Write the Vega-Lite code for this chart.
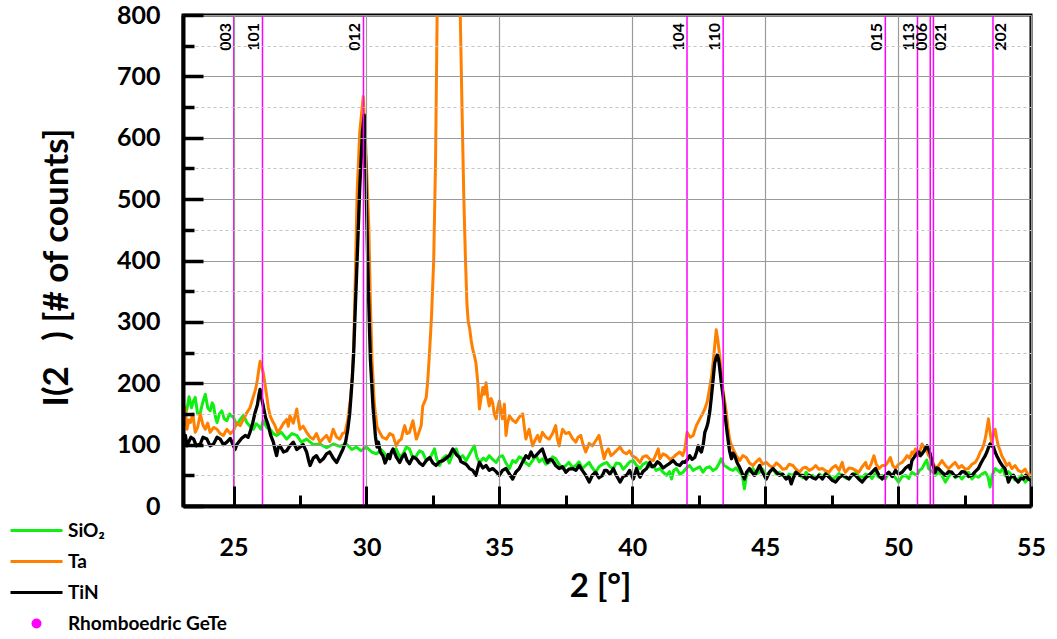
{
"$schema": "https://vega.github.io/schema/vega-lite/v6.json",
"width": 848, "height": 491,
"autosize": {"type": "none"},
"padding": {"left": 183, "top": 15, "right": 26, "bottom": 133},
"background": "white",
"config": {"font": "Lato", "view": {"stroke": "black", "strokeWidth": 3}},
"datasets": {
"xrd": [
{"s":"SiO₂","x":23.1,"y":172},{"s":"SiO₂","x":23.18,"y":150},{"s":"SiO₂","x":23.25,"y":158},{"s":"SiO₂","x":23.33,"y":178},{"s":"SiO₂","x":23.42,"y":160},{"s":"SiO₂","x":23.5,"y":172},{"s":"SiO₂","x":23.56,"y":177},{"s":"SiO₂","x":23.65,"y":150},{"s":"SiO₂","x":23.75,"y":152},{"s":"SiO₂","x":23.85,"y":170},{"s":"SiO₂","x":23.94,"y":182},{"s":"SiO₂","x":24.03,"y":160},{"s":"SiO₂","x":24.12,"y":155},{"s":"SiO₂","x":24.2,"y":168},{"s":"SiO₂","x":24.25,"y":163},{"s":"SiO₂","x":24.32,"y":145},{"s":"SiO₂","x":24.38,"y":136},{"s":"SiO₂","x":24.47,"y":150},{"s":"SiO₂","x":24.56,"y":155},{"s":"SiO₂","x":24.65,"y":142},{"s":"SiO₂","x":24.75,"y":139},{"s":"SiO₂","x":24.85,"y":150},{"s":"SiO₂","x":25.0,"y":144},{"s":"SiO₂","x":25.12,"y":132},{"s":"SiO₂","x":25.25,"y":141},{"s":"SiO₂","x":25.38,"y":148},{"s":"SiO₂","x":25.5,"y":136},{"s":"SiO₂","x":25.62,"y":130},{"s":"SiO₂","x":25.75,"y":125},{"s":"SiO₂","x":25.85,"y":134},{"s":"SiO₂","x":25.94,"y":131},{"s":"SiO₂","x":26.03,"y":125},{"s":"SiO₂","x":26.12,"y":139},{"s":"SiO₂","x":26.25,"y":128},{"s":"SiO₂","x":26.38,"y":125},{"s":"SiO₂","x":26.5,"y":118},{"s":"SiO₂","x":26.62,"y":115},{"s":"SiO₂","x":26.8,"y":120},{"s":"SiO₂","x":27.0,"y":109},{"s":"SiO₂","x":27.2,"y":118},{"s":"SiO₂","x":27.38,"y":115},{"s":"SiO₂","x":27.55,"y":104},{"s":"SiO₂","x":27.75,"y":109},{"s":"SiO₂","x":28.0,"y":100},{"s":"SiO₂","x":28.25,"y":101},{"s":"SiO₂","x":28.5,"y":95},{"s":"SiO₂","x":28.75,"y":101},{"s":"SiO₂","x":29.0,"y":97},{"s":"SiO₂","x":29.25,"y":101},{"s":"SiO₂","x":29.45,"y":92},{"s":"SiO₂","x":29.62,"y":96},{"s":"SiO₂","x":29.8,"y":90},{"s":"SiO₂","x":30.0,"y":96},{"s":"SiO₂","x":30.2,"y":88},{"s":"SiO₂","x":30.38,"y":85},{"s":"SiO₂","x":30.55,"y":92},{"s":"SiO₂","x":30.75,"y":82},{"s":"SiO₂","x":30.88,"y":82},{"s":"SiO₂","x":31.0,"y":90},{"s":"SiO₂","x":31.12,"y":93},{"s":"SiO₂","x":31.25,"y":80},{"s":"SiO₂","x":31.38,"y":85},{"s":"SiO₂","x":31.5,"y":96},{"s":"SiO₂","x":31.62,"y":93},{"s":"SiO₂","x":31.75,"y":78},{"s":"SiO₂","x":31.88,"y":82},{"s":"SiO₂","x":32.0,"y":90},{"s":"SiO₂","x":32.12,"y":87},{"s":"SiO₂","x":32.25,"y":74},{"s":"SiO₂","x":32.38,"y":77},{"s":"SiO₂","x":32.47,"y":85},{"s":"SiO₂","x":32.56,"y":93},{"s":"SiO₂","x":32.65,"y":76},{"s":"SiO₂","x":32.75,"y":66},{"s":"SiO₂","x":32.88,"y":78},{"s":"SiO₂","x":33.0,"y":82},{"s":"SiO₂","x":33.12,"y":70},{"s":"SiO₂","x":33.25,"y":85},{"s":"SiO₂","x":33.38,"y":93},{"s":"SiO₂","x":33.5,"y":78},{"s":"SiO₂","x":33.62,"y":82},{"s":"SiO₂","x":33.75,"y":74},{"s":"SiO₂","x":33.9,"y":86},{"s":"SiO₂","x":34.06,"y":98},{"s":"SiO₂","x":34.15,"y":80},{"s":"SiO₂","x":34.25,"y":71},{"s":"SiO₂","x":34.4,"y":78},{"s":"SiO₂","x":34.5,"y":74},{"s":"SiO₂","x":34.62,"y":82},{"s":"SiO₂","x":34.75,"y":76},{"s":"SiO₂","x":34.88,"y":71},{"s":"SiO₂","x":35.0,"y":80},{"s":"SiO₂","x":35.12,"y":82},{"s":"SiO₂","x":35.25,"y":70},{"s":"SiO₂","x":35.38,"y":61},{"s":"SiO₂","x":35.5,"y":74},{"s":"SiO₂","x":35.62,"y":71},{"s":"SiO₂","x":35.75,"y":80},{"s":"SiO₂","x":35.88,"y":77},{"s":"SiO₂","x":36.0,"y":70},{"s":"SiO₂","x":36.12,"y":66},{"s":"SiO₂","x":36.25,"y":74},{"s":"SiO₂","x":36.38,"y":82},{"s":"SiO₂","x":36.5,"y":72},{"s":"SiO₂","x":36.62,"y":77},{"s":"SiO₂","x":36.75,"y":68},{"s":"SiO₂","x":36.88,"y":71},{"s":"SiO₂","x":37.0,"y":80},{"s":"SiO₂","x":37.12,"y":77},{"s":"SiO₂","x":37.25,"y":68},{"s":"SiO₂","x":37.38,"y":61},{"s":"SiO₂","x":37.5,"y":66},{"s":"SiO₂","x":37.62,"y":71},{"s":"SiO₂","x":37.75,"y":63},{"s":"SiO₂","x":37.88,"y":66},{"s":"SiO₂","x":38.0,"y":72},{"s":"SiO₂","x":38.12,"y":61},{"s":"SiO₂","x":38.25,"y":66},{"s":"SiO₂","x":38.38,"y":71},{"s":"SiO₂","x":38.5,"y":62},{"s":"SiO₂","x":38.62,"y":55},{"s":"SiO₂","x":38.75,"y":64},{"s":"SiO₂","x":38.88,"y":68},{"s":"SiO₂","x":39.04,"y":71},{"s":"SiO₂","x":39.16,"y":64},{"s":"SiO₂","x":39.29,"y":61},{"s":"SiO₂","x":39.4,"y":70},{"s":"SiO₂","x":39.54,"y":69},{"s":"SiO₂","x":39.66,"y":60},{"s":"SiO₂","x":39.79,"y":66},{"s":"SiO₂","x":39.9,"y":72},{"s":"SiO₂","x":40.04,"y":74},{"s":"SiO₂","x":40.16,"y":66},{"s":"SiO₂","x":40.29,"y":61},{"s":"SiO₂","x":40.4,"y":68},{"s":"SiO₂","x":40.54,"y":71},{"s":"SiO₂","x":40.66,"y":64},{"s":"SiO₂","x":40.79,"y":66},{"s":"SiO₂","x":40.9,"y":58},{"s":"SiO₂","x":41.04,"y":61},{"s":"SiO₂","x":41.16,"y":55},{"s":"SiO₂","x":41.29,"y":50},{"s":"SiO₂","x":41.4,"y":56},{"s":"SiO₂","x":41.48,"y":44},{"s":"SiO₂","x":41.56,"y":58},{"s":"SiO₂","x":41.66,"y":61},{"s":"SiO₂","x":41.79,"y":52},{"s":"SiO₂","x":41.91,"y":55},{"s":"SiO₂","x":42.04,"y":62},{"s":"SiO₂","x":42.16,"y":66},{"s":"SiO₂","x":42.29,"y":58},{"s":"SiO₂","x":42.41,"y":61},{"s":"SiO₂","x":42.54,"y":64},{"s":"SiO₂","x":42.66,"y":55},{"s":"SiO₂","x":42.78,"y":62},{"s":"SiO₂","x":42.91,"y":64},{"s":"SiO₂","x":43.04,"y":58},{"s":"SiO₂","x":43.16,"y":61},{"s":"SiO₂","x":43.25,"y":68},{"s":"SiO₂","x":43.35,"y":77},{"s":"SiO₂","x":43.45,"y":66},{"s":"SiO₂","x":43.54,"y":64},{"s":"SiO₂","x":43.66,"y":60},{"s":"SiO₂","x":43.79,"y":58},{"s":"SiO₂","x":43.9,"y":62},{"s":"SiO₂","x":44.04,"y":55},{"s":"SiO₂","x":44.14,"y":50},{"s":"SiO₂","x":44.22,"y":28},{"s":"SiO₂","x":44.28,"y":46},{"s":"SiO₂","x":44.35,"y":55},{"s":"SiO₂","x":44.45,"y":58},{"s":"SiO₂","x":44.54,"y":61},{"s":"SiO₂","x":44.66,"y":52},{"s":"SiO₂","x":44.79,"y":55},{"s":"SiO₂","x":44.9,"y":60},{"s":"SiO₂","x":45.04,"y":50},{"s":"SiO₂","x":45.16,"y":55},{"s":"SiO₂","x":45.29,"y":61},{"s":"SiO₂","x":45.42,"y":52},{"s":"SiO₂","x":45.54,"y":55},{"s":"SiO₂","x":45.66,"y":50},{"s":"SiO₂","x":45.79,"y":44},{"s":"SiO₂","x":45.9,"y":52},{"s":"SiO₂","x":46.04,"y":50},{"s":"SiO₂","x":46.16,"y":56},{"s":"SiO₂","x":46.29,"y":50},{"s":"SiO₂","x":46.42,"y":46},{"s":"SiO₂","x":46.54,"y":55},{"s":"SiO₂","x":46.66,"y":48},{"s":"SiO₂","x":46.79,"y":50},{"s":"SiO₂","x":46.92,"y":45},{"s":"SiO₂","x":47.05,"y":52},{"s":"SiO₂","x":47.15,"y":47},{"s":"SiO₂","x":47.28,"y":54},{"s":"SiO₂","x":47.4,"y":50},{"s":"SiO₂","x":47.52,"y":44},{"s":"SiO₂","x":47.65,"y":47},{"s":"SiO₂","x":47.78,"y":53},{"s":"SiO₂","x":47.9,"y":50},{"s":"SiO₂","x":48.02,"y":46},{"s":"SiO₂","x":48.15,"y":44},{"s":"SiO₂","x":48.28,"y":50},{"s":"SiO₂","x":48.4,"y":55},{"s":"SiO₂","x":48.52,"y":48},{"s":"SiO₂","x":48.65,"y":47},{"s":"SiO₂","x":48.78,"y":52},{"s":"SiO₂","x":48.9,"y":50},{"s":"SiO₂","x":49.02,"y":45},{"s":"SiO₂","x":49.15,"y":53},{"s":"SiO₂","x":49.28,"y":47},{"s":"SiO₂","x":49.4,"y":50},{"s":"SiO₂","x":49.52,"y":44},{"s":"SiO₂","x":49.65,"y":55},{"s":"SiO₂","x":49.78,"y":50},{"s":"SiO₂","x":49.9,"y":46},{"s":"SiO₂","x":50.02,"y":39},{"s":"SiO₂","x":50.15,"y":48},{"s":"SiO₂","x":50.28,"y":50},{"s":"SiO₂","x":50.4,"y":45},{"s":"SiO₂","x":50.52,"y":55},{"s":"SiO₂","x":50.62,"y":52},{"s":"SiO₂","x":50.71,"y":50},{"s":"SiO₂","x":50.8,"y":58},{"s":"SiO₂","x":50.9,"y":61},{"s":"SiO₂","x":50.96,"y":66},{"s":"SiO₂","x":51.02,"y":71},{"s":"SiO₂","x":51.08,"y":75},{"s":"SiO₂","x":51.15,"y":61},{"s":"SiO₂","x":51.28,"y":56},{"s":"SiO₂","x":51.4,"y":50},{"s":"SiO₂","x":51.52,"y":55},{"s":"SiO₂","x":51.65,"y":50},{"s":"SiO₂","x":51.72,"y":44},{"s":"SiO₂","x":51.78,"y":39},{"s":"SiO₂","x":51.9,"y":48},{"s":"SiO₂","x":52.02,"y":55},{"s":"SiO₂","x":52.15,"y":46},{"s":"SiO₂","x":52.28,"y":50},{"s":"SiO₂","x":52.4,"y":44},{"s":"SiO₂","x":52.52,"y":50},{"s":"SiO₂","x":52.65,"y":55},{"s":"SiO₂","x":52.78,"y":44},{"s":"SiO₂","x":52.9,"y":50},{"s":"SiO₂","x":53.02,"y":47},{"s":"SiO₂","x":53.15,"y":52},{"s":"SiO₂","x":53.28,"y":55},{"s":"SiO₂","x":53.38,"y":48},{"s":"SiO₂","x":53.46,"y":31},{"s":"SiO₂","x":53.54,"y":50},{"s":"SiO₂","x":53.65,"y":61},{"s":"SiO₂","x":53.75,"y":58},{"s":"SiO₂","x":53.84,"y":55},{"s":"SiO₂","x":53.95,"y":62},{"s":"SiO₂","x":54.02,"y":50},{"s":"SiO₂","x":54.15,"y":56},{"s":"SiO₂","x":54.28,"y":50},{"s":"SiO₂","x":54.4,"y":42},{"s":"SiO₂","x":54.52,"y":44},{"s":"SiO₂","x":54.65,"y":50},{"s":"SiO₂","x":54.78,"y":39},{"s":"SiO₂","x":54.9,"y":44},{"s":"SiO₂","x":55.0,"y":46},
{"s":"Ta","x":23.1,"y":147},{"s":"Ta","x":23.18,"y":160},{"s":"Ta","x":23.25,"y":125},{"s":"Ta","x":23.32,"y":140},{"s":"Ta","x":23.38,"y":136},{"s":"Ta","x":23.47,"y":150},{"s":"Ta","x":23.56,"y":120},{"s":"Ta","x":23.65,"y":128},{"s":"Ta","x":23.75,"y":150},{"s":"Ta","x":23.85,"y":132},{"s":"Ta","x":23.94,"y":125},{"s":"Ta","x":24.03,"y":135},{"s":"Ta","x":24.12,"y":120},{"s":"Ta","x":24.25,"y":128},{"s":"Ta","x":24.38,"y":125},{"s":"Ta","x":24.5,"y":118},{"s":"Ta","x":24.62,"y":115},{"s":"Ta","x":24.75,"y":125},{"s":"Ta","x":24.88,"y":118},{"s":"Ta","x":25.0,"y":123},{"s":"Ta","x":25.12,"y":135},{"s":"Ta","x":25.25,"y":131},{"s":"Ta","x":25.38,"y":142},{"s":"Ta","x":25.5,"y":152},{"s":"Ta","x":25.62,"y":160},{"s":"Ta","x":25.75,"y":179},{"s":"Ta","x":25.83,"y":190},{"s":"Ta","x":25.9,"y":206},{"s":"Ta","x":25.96,"y":225},{"s":"Ta","x":26.0,"y":236},{"s":"Ta","x":26.06,"y":228},{"s":"Ta","x":26.12,"y":217},{"s":"Ta","x":26.18,"y":200},{"s":"Ta","x":26.25,"y":179},{"s":"Ta","x":26.31,"y":160},{"s":"Ta","x":26.38,"y":147},{"s":"Ta","x":26.47,"y":138},{"s":"Ta","x":26.56,"y":131},{"s":"Ta","x":26.65,"y":120},{"s":"Ta","x":26.75,"y":125},{"s":"Ta","x":26.88,"y":135},{"s":"Ta","x":27.0,"y":141},{"s":"Ta","x":27.06,"y":130},{"s":"Ta","x":27.12,"y":147},{"s":"Ta","x":27.25,"y":135},{"s":"Ta","x":27.38,"y":158},{"s":"Ta","x":27.44,"y":140},{"s":"Ta","x":27.5,"y":125},{"s":"Ta","x":27.62,"y":130},{"s":"Ta","x":27.75,"y":120},{"s":"Ta","x":27.88,"y":112},{"s":"Ta","x":28.0,"y":109},{"s":"Ta","x":28.12,"y":118},{"s":"Ta","x":28.25,"y":104},{"s":"Ta","x":28.38,"y":110},{"s":"Ta","x":28.5,"y":115},{"s":"Ta","x":28.62,"y":105},{"s":"Ta","x":28.75,"y":125},{"s":"Ta","x":28.88,"y":112},{"s":"Ta","x":29.0,"y":109},{"s":"Ta","x":29.1,"y":118},{"s":"Ta","x":29.2,"y":120},{"s":"Ta","x":29.3,"y":141},{"s":"Ta","x":29.4,"y":175},{"s":"Ta","x":29.47,"y":210},{"s":"Ta","x":29.52,"y":259},{"s":"Ta","x":29.58,"y":370},{"s":"Ta","x":29.65,"y":510},{"s":"Ta","x":29.75,"y":610},{"s":"Ta","x":29.88,"y":667},{"s":"Ta","x":29.98,"y":580},{"s":"Ta","x":30.09,"y":455},{"s":"Ta","x":30.15,"y":330},{"s":"Ta","x":30.21,"y":238},{"s":"Ta","x":30.3,"y":165},{"s":"Ta","x":30.4,"y":129},{"s":"Ta","x":30.5,"y":120},{"s":"Ta","x":30.6,"y":112},{"s":"Ta","x":30.75,"y":109},{"s":"Ta","x":30.88,"y":118},{"s":"Ta","x":31.0,"y":115},{"s":"Ta","x":31.12,"y":98},{"s":"Ta","x":31.22,"y":106},{"s":"Ta","x":31.31,"y":109},{"s":"Ta","x":31.38,"y":122},{"s":"Ta","x":31.44,"y":131},{"s":"Ta","x":31.52,"y":118},{"s":"Ta","x":31.62,"y":120},{"s":"Ta","x":31.7,"y":132},{"s":"Ta","x":31.75,"y":139},{"s":"Ta","x":31.82,"y":122},{"s":"Ta","x":31.88,"y":109},{"s":"Ta","x":31.96,"y":118},{"s":"Ta","x":32.06,"y":131},{"s":"Ta","x":32.12,"y":163},{"s":"Ta","x":32.19,"y":170},{"s":"Ta","x":32.25,"y":177},{"s":"Ta","x":32.31,"y":206},{"s":"Ta","x":32.38,"y":255},{"s":"Ta","x":32.45,"y":310},{"s":"Ta","x":32.53,"y":400},{"s":"Ta","x":32.6,"y":560},{"s":"Ta","x":32.66,"y":800},{"s":"Ta","x":32.8,"y":1300},{"s":"Ta","x":33.05,"y":1900},{"s":"Ta","x":33.3,"y":1400},{"s":"Ta","x":33.53,"y":800},{"s":"Ta","x":33.6,"y":640},{"s":"Ta","x":33.66,"y":510},{"s":"Ta","x":33.72,"y":410},{"s":"Ta","x":33.78,"y":330},{"s":"Ta","x":33.83,"y":300},{"s":"Ta","x":33.88,"y":290},{"s":"Ta","x":33.94,"y":270},{"s":"Ta","x":34.0,"y":255},{"s":"Ta","x":34.06,"y":245},{"s":"Ta","x":34.12,"y":233},{"s":"Ta","x":34.19,"y":201},{"s":"Ta","x":34.25,"y":158},{"s":"Ta","x":34.31,"y":175},{"s":"Ta","x":34.38,"y":193},{"s":"Ta","x":34.44,"y":182},{"s":"Ta","x":34.5,"y":201},{"s":"Ta","x":34.56,"y":178},{"s":"Ta","x":34.62,"y":163},{"s":"Ta","x":34.69,"y":175},{"s":"Ta","x":34.75,"y":168},{"s":"Ta","x":34.81,"y":150},{"s":"Ta","x":34.88,"y":142},{"s":"Ta","x":34.94,"y":160},{"s":"Ta","x":35.0,"y":171},{"s":"Ta","x":35.06,"y":155},{"s":"Ta","x":35.12,"y":142},{"s":"Ta","x":35.19,"y":166},{"s":"Ta","x":35.25,"y":115},{"s":"Ta","x":35.31,"y":135},{"s":"Ta","x":35.38,"y":147},{"s":"Ta","x":35.5,"y":140},{"s":"Ta","x":35.62,"y":136},{"s":"Ta","x":35.75,"y":145},{"s":"Ta","x":35.88,"y":150},{"s":"Ta","x":35.94,"y":128},{"s":"Ta","x":36.0,"y":109},{"s":"Ta","x":36.06,"y":118},{"s":"Ta","x":36.12,"y":125},{"s":"Ta","x":36.19,"y":110},{"s":"Ta","x":36.25,"y":98},{"s":"Ta","x":36.35,"y":108},{"s":"Ta","x":36.44,"y":115},{"s":"Ta","x":36.52,"y":105},{"s":"Ta","x":36.62,"y":120},{"s":"Ta","x":36.75,"y":112},{"s":"Ta","x":36.88,"y":109},{"s":"Ta","x":37.0,"y":118},{"s":"Ta","x":37.12,"y":131},{"s":"Ta","x":37.18,"y":110},{"s":"Ta","x":37.25,"y":98},{"s":"Ta","x":37.31,"y":112},{"s":"Ta","x":37.38,"y":125},{"s":"Ta","x":37.5,"y":118},{"s":"Ta","x":37.62,"y":120},{"s":"Ta","x":37.75,"y":110},{"s":"Ta","x":37.88,"y":104},{"s":"Ta","x":37.96,"y":112},{"s":"Ta","x":38.06,"y":115},{"s":"Ta","x":38.15,"y":100},{"s":"Ta","x":38.25,"y":88},{"s":"Ta","x":38.38,"y":102},{"s":"Ta","x":38.5,"y":98},{"s":"Ta","x":38.62,"y":106},{"s":"Ta","x":38.75,"y":115},{"s":"Ta","x":38.85,"y":95},{"s":"Ta","x":38.94,"y":77},{"s":"Ta","x":39.02,"y":88},{"s":"Ta","x":39.1,"y":93},{"s":"Ta","x":39.2,"y":82},{"s":"Ta","x":39.29,"y":85},{"s":"Ta","x":39.4,"y":90},{"s":"Ta","x":39.54,"y":96},{"s":"Ta","x":39.66,"y":88},{"s":"Ta","x":39.79,"y":85},{"s":"Ta","x":39.9,"y":90},{"s":"Ta","x":40.0,"y":82},{"s":"Ta","x":40.15,"y":78},{"s":"Ta","x":40.29,"y":71},{"s":"Ta","x":40.4,"y":80},{"s":"Ta","x":40.54,"y":82},{"s":"Ta","x":40.66,"y":76},{"s":"Ta","x":40.79,"y":74},{"s":"Ta","x":40.9,"y":85},{"s":"Ta","x":40.98,"y":93},{"s":"Ta","x":41.04,"y":77},{"s":"Ta","x":41.16,"y":85},{"s":"Ta","x":41.29,"y":82},{"s":"Ta","x":41.42,"y":76},{"s":"Ta","x":41.54,"y":79},{"s":"Ta","x":41.66,"y":84},{"s":"Ta","x":41.79,"y":88},{"s":"Ta","x":41.9,"y":82},{"s":"Ta","x":41.98,"y":93},{"s":"Ta","x":42.06,"y":120},{"s":"Ta","x":42.18,"y":112},{"s":"Ta","x":42.29,"y":115},{"s":"Ta","x":42.41,"y":131},{"s":"Ta","x":42.54,"y":142},{"s":"Ta","x":42.64,"y":150},{"s":"Ta","x":42.73,"y":158},{"s":"Ta","x":42.82,"y":170},{"s":"Ta","x":42.9,"y":190},{"s":"Ta","x":42.98,"y":210},{"s":"Ta","x":43.04,"y":233},{"s":"Ta","x":43.1,"y":260},{"s":"Ta","x":43.16,"y":287},{"s":"Ta","x":43.22,"y":270},{"s":"Ta","x":43.29,"y":244},{"s":"Ta","x":43.35,"y":215},{"s":"Ta","x":43.41,"y":190},{"s":"Ta","x":43.48,"y":170},{"s":"Ta","x":43.54,"y":152},{"s":"Ta","x":43.6,"y":128},{"s":"Ta","x":43.66,"y":109},{"s":"Ta","x":43.72,"y":100},{"s":"Ta","x":43.79,"y":93},{"s":"Ta","x":43.85,"y":88},{"s":"Ta","x":43.91,"y":82},{"s":"Ta","x":43.98,"y":78},{"s":"Ta","x":44.04,"y":74},{"s":"Ta","x":44.16,"y":82},{"s":"Ta","x":44.29,"y":79},{"s":"Ta","x":44.41,"y":70},{"s":"Ta","x":44.54,"y":66},{"s":"Ta","x":44.66,"y":72},{"s":"Ta","x":44.79,"y":77},{"s":"Ta","x":44.9,"y":68},{"s":"Ta","x":45.04,"y":71},{"s":"Ta","x":45.16,"y":66},{"s":"Ta","x":45.29,"y":63},{"s":"Ta","x":45.42,"y":70},{"s":"Ta","x":45.54,"y":66},{"s":"Ta","x":45.66,"y":60},{"s":"Ta","x":45.79,"y":61},{"s":"Ta","x":45.9,"y":68},{"s":"Ta","x":46.04,"y":66},{"s":"Ta","x":46.16,"y":60},{"s":"Ta","x":46.29,"y":55},{"s":"Ta","x":46.42,"y":62},{"s":"Ta","x":46.54,"y":63},{"s":"Ta","x":46.66,"y":58},{"s":"Ta","x":46.79,"y":61},{"s":"Ta","x":46.9,"y":66},{"s":"Ta","x":47.02,"y":60},{"s":"Ta","x":47.15,"y":61},{"s":"Ta","x":47.28,"y":57},{"s":"Ta","x":47.4,"y":55},{"s":"Ta","x":47.52,"y":62},{"s":"Ta","x":47.65,"y":66},{"s":"Ta","x":47.78,"y":58},{"s":"Ta","x":47.9,"y":71},{"s":"Ta","x":47.96,"y":60},{"s":"Ta","x":48.02,"y":55},{"s":"Ta","x":48.15,"y":62},{"s":"Ta","x":48.28,"y":61},{"s":"Ta","x":48.4,"y":58},{"s":"Ta","x":48.52,"y":55},{"s":"Ta","x":48.65,"y":64},{"s":"Ta","x":48.78,"y":71},{"s":"Ta","x":48.84,"y":62},{"s":"Ta","x":48.9,"y":61},{"s":"Ta","x":49.0,"y":70},{"s":"Ta","x":49.09,"y":82},{"s":"Ta","x":49.18,"y":68},{"s":"Ta","x":49.28,"y":61},{"s":"Ta","x":49.4,"y":66},{"s":"Ta","x":49.52,"y":66},{"s":"Ta","x":49.62,"y":72},{"s":"Ta","x":49.71,"y":79},{"s":"Ta","x":49.8,"y":66},{"s":"Ta","x":49.9,"y":61},{"s":"Ta","x":50.02,"y":68},{"s":"Ta","x":50.15,"y":71},{"s":"Ta","x":50.25,"y":76},{"s":"Ta","x":50.34,"y":82},{"s":"Ta","x":50.44,"y":78},{"s":"Ta","x":50.52,"y":88},{"s":"Ta","x":50.58,"y":84},{"s":"Ta","x":50.65,"y":93},{"s":"Ta","x":50.72,"y":85},{"s":"Ta","x":50.78,"y":82},{"s":"Ta","x":50.84,"y":92},{"s":"Ta","x":50.9,"y":101},{"s":"Ta","x":50.96,"y":96},{"s":"Ta","x":51.02,"y":93},{"s":"Ta","x":51.1,"y":88},{"s":"Ta","x":51.15,"y":82},{"s":"Ta","x":51.22,"y":78},{"s":"Ta","x":51.28,"y":74},{"s":"Ta","x":51.36,"y":66},{"s":"Ta","x":51.46,"y":61},{"s":"Ta","x":51.55,"y":68},{"s":"Ta","x":51.65,"y":74},{"s":"Ta","x":51.78,"y":66},{"s":"Ta","x":51.9,"y":61},{"s":"Ta","x":52.02,"y":66},{"s":"Ta","x":52.15,"y":71},{"s":"Ta","x":52.28,"y":62},{"s":"Ta","x":52.4,"y":66},{"s":"Ta","x":52.52,"y":60},{"s":"Ta","x":52.65,"y":61},{"s":"Ta","x":52.78,"y":68},{"s":"Ta","x":52.9,"y":71},{"s":"Ta","x":53.0,"y":78},{"s":"Ta","x":53.09,"y":88},{"s":"Ta","x":53.15,"y":92},{"s":"Ta","x":53.21,"y":98},{"s":"Ta","x":53.28,"y":110},{"s":"Ta","x":53.34,"y":125},{"s":"Ta","x":53.4,"y":142},{"s":"Ta","x":53.46,"y":120},{"s":"Ta","x":53.52,"y":104},{"s":"Ta","x":53.58,"y":115},{"s":"Ta","x":53.65,"y":125},{"s":"Ta","x":53.71,"y":110},{"s":"Ta","x":53.77,"y":98},{"s":"Ta","x":53.84,"y":90},{"s":"Ta","x":53.9,"y":82},{"s":"Ta","x":54.0,"y":74},{"s":"Ta","x":54.09,"y":66},{"s":"Ta","x":54.18,"y":70},{"s":"Ta","x":54.28,"y":61},{"s":"Ta","x":54.4,"y":66},{"s":"Ta","x":54.52,"y":58},{"s":"Ta","x":54.65,"y":55},{"s":"Ta","x":54.78,"y":60},{"s":"Ta","x":54.9,"y":50},{"s":"Ta","x":55.0,"y":52},
{"s":"TiN","x":23.1,"y":125},{"s":"TiN","x":23.15,"y":110},{"s":"TiN","x":23.19,"y":115},{"s":"TiN","x":23.25,"y":98},{"s":"TiN","x":23.31,"y":104},{"s":"TiN","x":23.4,"y":112},{"s":"TiN","x":23.5,"y":109},{"s":"TiN","x":23.6,"y":98},{"s":"TiN","x":23.75,"y":101},{"s":"TiN","x":23.85,"y":112},{"s":"TiN","x":24.0,"y":109},{"s":"TiN","x":24.12,"y":98},{"s":"TiN","x":24.25,"y":101},{"s":"TiN","x":24.38,"y":112},{"s":"TiN","x":24.5,"y":109},{"s":"TiN","x":24.62,"y":100},{"s":"TiN","x":24.75,"y":104},{"s":"TiN","x":24.88,"y":110},{"s":"TiN","x":25.0,"y":98},{"s":"TiN","x":25.06,"y":92},{"s":"TiN","x":25.12,"y":100},{"s":"TiN","x":25.19,"y":104},{"s":"TiN","x":25.3,"y":110},{"s":"TiN","x":25.44,"y":115},{"s":"TiN","x":25.55,"y":112},{"s":"TiN","x":25.62,"y":120},{"s":"TiN","x":25.72,"y":135},{"s":"TiN","x":25.81,"y":152},{"s":"TiN","x":25.9,"y":165},{"s":"TiN","x":25.96,"y":182},{"s":"TiN","x":26.0,"y":190},{"s":"TiN","x":26.06,"y":175},{"s":"TiN","x":26.12,"y":163},{"s":"TiN","x":26.2,"y":145},{"s":"TiN","x":26.31,"y":131},{"s":"TiN","x":26.4,"y":115},{"s":"TiN","x":26.5,"y":104},{"s":"TiN","x":26.56,"y":92},{"s":"TiN","x":26.62,"y":82},{"s":"TiN","x":26.68,"y":95},{"s":"TiN","x":26.75,"y":98},{"s":"TiN","x":26.88,"y":88},{"s":"TiN","x":27.0,"y":90},{"s":"TiN","x":27.12,"y":98},{"s":"TiN","x":27.25,"y":104},{"s":"TiN","x":27.38,"y":92},{"s":"TiN","x":27.5,"y":96},{"s":"TiN","x":27.62,"y":100},{"s":"TiN","x":27.75,"y":88},{"s":"TiN","x":27.82,"y":75},{"s":"TiN","x":27.88,"y":66},{"s":"TiN","x":28.0,"y":78},{"s":"TiN","x":28.12,"y":82},{"s":"TiN","x":28.25,"y":72},{"s":"TiN","x":28.38,"y":77},{"s":"TiN","x":28.5,"y":85},{"s":"TiN","x":28.62,"y":88},{"s":"TiN","x":28.75,"y":78},{"s":"TiN","x":28.88,"y":71},{"s":"TiN","x":29.0,"y":82},{"s":"TiN","x":29.12,"y":93},{"s":"TiN","x":29.22,"y":105},{"s":"TiN","x":29.3,"y":125},{"s":"TiN","x":29.37,"y":150},{"s":"TiN","x":29.42,"y":179},{"s":"TiN","x":29.47,"y":210},{"s":"TiN","x":29.52,"y":249},{"s":"TiN","x":29.58,"y":320},{"s":"TiN","x":29.65,"y":400},{"s":"TiN","x":29.75,"y":520},{"s":"TiN","x":29.85,"y":610},{"s":"TiN","x":29.92,"y":637},{"s":"TiN","x":29.97,"y":560},{"s":"TiN","x":30.02,"y":455},{"s":"TiN","x":30.08,"y":340},{"s":"TiN","x":30.15,"y":238},{"s":"TiN","x":30.25,"y":160},{"s":"TiN","x":30.34,"y":113},{"s":"TiN","x":30.4,"y":96},{"s":"TiN","x":30.45,"y":104},{"s":"TiN","x":30.52,"y":88},{"s":"TiN","x":30.62,"y":82},{"s":"TiN","x":30.7,"y":70},{"s":"TiN","x":30.75,"y":75},{"s":"TiN","x":30.82,"y":84},{"s":"TiN","x":30.88,"y":77},{"s":"TiN","x":30.94,"y":88},{"s":"TiN","x":31.0,"y":93},{"s":"TiN","x":31.12,"y":80},{"s":"TiN","x":31.25,"y":71},{"s":"TiN","x":31.35,"y":80},{"s":"TiN","x":31.44,"y":85},{"s":"TiN","x":31.53,"y":74},{"s":"TiN","x":31.62,"y":69},{"s":"TiN","x":31.75,"y":80},{"s":"TiN","x":31.88,"y":77},{"s":"TiN","x":32.0,"y":70},{"s":"TiN","x":32.12,"y":66},{"s":"TiN","x":32.25,"y":74},{"s":"TiN","x":32.38,"y":79},{"s":"TiN","x":32.5,"y":70},{"s":"TiN","x":32.62,"y":66},{"s":"TiN","x":32.75,"y":72},{"s":"TiN","x":32.88,"y":74},{"s":"TiN","x":33.0,"y":78},{"s":"TiN","x":33.12,"y":82},{"s":"TiN","x":33.19,"y":88},{"s":"TiN","x":33.25,"y":93},{"s":"TiN","x":33.38,"y":84},{"s":"TiN","x":33.5,"y":79},{"s":"TiN","x":33.56,"y":72},{"s":"TiN","x":33.62,"y":71},{"s":"TiN","x":33.75,"y":68},{"s":"TiN","x":33.88,"y":61},{"s":"TiN","x":34.0,"y":58},{"s":"TiN","x":34.12,"y":50},{"s":"TiN","x":34.19,"y":62},{"s":"TiN","x":34.25,"y":71},{"s":"TiN","x":34.38,"y":62},{"s":"TiN","x":34.5,"y":66},{"s":"TiN","x":34.62,"y":58},{"s":"TiN","x":34.75,"y":61},{"s":"TiN","x":34.88,"y":56},{"s":"TiN","x":35.0,"y":50},{"s":"TiN","x":35.12,"y":58},{"s":"TiN","x":35.25,"y":61},{"s":"TiN","x":35.38,"y":52},{"s":"TiN","x":35.5,"y":44},{"s":"TiN","x":35.62,"y":55},{"s":"TiN","x":35.75,"y":61},{"s":"TiN","x":35.88,"y":72},{"s":"TiN","x":36.0,"y":82},{"s":"TiN","x":36.1,"y":78},{"s":"TiN","x":36.19,"y":88},{"s":"TiN","x":36.28,"y":80},{"s":"TiN","x":36.38,"y":82},{"s":"TiN","x":36.5,"y":88},{"s":"TiN","x":36.62,"y":93},{"s":"TiN","x":36.72,"y":80},{"s":"TiN","x":36.81,"y":71},{"s":"TiN","x":36.9,"y":76},{"s":"TiN","x":37.0,"y":74},{"s":"TiN","x":37.12,"y":66},{"s":"TiN","x":37.25,"y":61},{"s":"TiN","x":37.38,"y":64},{"s":"TiN","x":37.5,"y":55},{"s":"TiN","x":37.62,"y":60},{"s":"TiN","x":37.75,"y":61},{"s":"TiN","x":37.88,"y":58},{"s":"TiN","x":38.0,"y":66},{"s":"TiN","x":38.12,"y":58},{"s":"TiN","x":38.25,"y":50},{"s":"TiN","x":38.38,"y":39},{"s":"TiN","x":38.5,"y":50},{"s":"TiN","x":38.62,"y":55},{"s":"TiN","x":38.75,"y":46},{"s":"TiN","x":38.88,"y":50},{"s":"TiN","x":38.96,"y":58},{"s":"TiN","x":39.04,"y":58},{"s":"TiN","x":39.16,"y":52},{"s":"TiN","x":39.29,"y":61},{"s":"TiN","x":39.4,"y":50},{"s":"TiN","x":39.54,"y":39},{"s":"TiN","x":39.66,"y":48},{"s":"TiN","x":39.79,"y":50},{"s":"TiN","x":39.9,"y":58},{"s":"TiN","x":40.04,"y":44},{"s":"TiN","x":40.1,"y":52},{"s":"TiN","x":40.16,"y":61},{"s":"TiN","x":40.22,"y":54},{"s":"TiN","x":40.29,"y":47},{"s":"TiN","x":40.4,"y":56},{"s":"TiN","x":40.54,"y":61},{"s":"TiN","x":40.66,"y":71},{"s":"TiN","x":40.75,"y":64},{"s":"TiN","x":40.85,"y":66},{"s":"TiN","x":40.95,"y":72},{"s":"TiN","x":41.04,"y":69},{"s":"TiN","x":41.16,"y":62},{"s":"TiN","x":41.29,"y":66},{"s":"TiN","x":41.42,"y":70},{"s":"TiN","x":41.54,"y":74},{"s":"TiN","x":41.66,"y":68},{"s":"TiN","x":41.79,"y":66},{"s":"TiN","x":41.9,"y":72},{"s":"TiN","x":41.98,"y":71},{"s":"TiN","x":42.08,"y":76},{"s":"TiN","x":42.16,"y":82},{"s":"TiN","x":42.25,"y":76},{"s":"TiN","x":42.35,"y":79},{"s":"TiN","x":42.42,"y":88},{"s":"TiN","x":42.48,"y":98},{"s":"TiN","x":42.54,"y":92},{"s":"TiN","x":42.6,"y":88},{"s":"TiN","x":42.67,"y":100},{"s":"TiN","x":42.73,"y":120},{"s":"TiN","x":42.8,"y":128},{"s":"TiN","x":42.85,"y":136},{"s":"TiN","x":42.92,"y":155},{"s":"TiN","x":42.98,"y":179},{"s":"TiN","x":43.04,"y":205},{"s":"TiN","x":43.1,"y":233},{"s":"TiN","x":43.16,"y":242},{"s":"TiN","x":43.2,"y":246},{"s":"TiN","x":43.25,"y":238},{"s":"TiN","x":43.28,"y":228},{"s":"TiN","x":43.35,"y":201},{"s":"TiN","x":43.42,"y":178},{"s":"TiN","x":43.48,"y":152},{"s":"TiN","x":43.54,"y":130},{"s":"TiN","x":43.6,"y":109},{"s":"TiN","x":43.66,"y":90},{"s":"TiN","x":43.73,"y":77},{"s":"TiN","x":43.79,"y":86},{"s":"TiN","x":43.85,"y":82},{"s":"TiN","x":43.95,"y":70},{"s":"TiN","x":44.04,"y":63},{"s":"TiN","x":44.12,"y":55},{"s":"TiN","x":44.22,"y":44},{"s":"TiN","x":44.3,"y":55},{"s":"TiN","x":44.41,"y":61},{"s":"TiN","x":44.5,"y":55},{"s":"TiN","x":44.6,"y":50},{"s":"TiN","x":44.7,"y":58},{"s":"TiN","x":44.79,"y":66},{"s":"TiN","x":44.9,"y":55},{"s":"TiN","x":45.04,"y":44},{"s":"TiN","x":45.16,"y":55},{"s":"TiN","x":45.29,"y":61},{"s":"TiN","x":45.42,"y":55},{"s":"TiN","x":45.54,"y":50},{"s":"TiN","x":45.66,"y":52},{"s":"TiN","x":45.79,"y":44},{"s":"TiN","x":45.9,"y":48},{"s":"TiN","x":45.98,"y":36},{"s":"TiN","x":46.06,"y":46},{"s":"TiN","x":46.16,"y":55},{"s":"TiN","x":46.29,"y":50},{"s":"TiN","x":46.41,"y":50},{"s":"TiN","x":46.54,"y":44},{"s":"TiN","x":46.66,"y":50},{"s":"TiN","x":46.78,"y":46},{"s":"TiN","x":46.9,"y":44},{"s":"TiN","x":47.02,"y":50},{"s":"TiN","x":47.15,"y":44},{"s":"TiN","x":47.28,"y":52},{"s":"TiN","x":47.4,"y":47},{"s":"TiN","x":47.52,"y":42},{"s":"TiN","x":47.65,"y":39},{"s":"TiN","x":47.78,"y":46},{"s":"TiN","x":47.9,"y":50},{"s":"TiN","x":48.02,"y":48},{"s":"TiN","x":48.15,"y":44},{"s":"TiN","x":48.28,"y":52},{"s":"TiN","x":48.4,"y":50},{"s":"TiN","x":48.52,"y":44},{"s":"TiN","x":48.65,"y":39},{"s":"TiN","x":48.78,"y":46},{"s":"TiN","x":48.9,"y":50},{"s":"TiN","x":49.02,"y":55},{"s":"TiN","x":49.15,"y":61},{"s":"TiN","x":49.28,"y":50},{"s":"TiN","x":49.4,"y":44},{"s":"TiN","x":49.52,"y":50},{"s":"TiN","x":49.65,"y":55},{"s":"TiN","x":49.78,"y":48},{"s":"TiN","x":49.9,"y":58},{"s":"TiN","x":50.02,"y":52},{"s":"TiN","x":50.15,"y":55},{"s":"TiN","x":50.28,"y":62},{"s":"TiN","x":50.4,"y":66},{"s":"TiN","x":50.46,"y":60},{"s":"TiN","x":50.52,"y":74},{"s":"TiN","x":50.58,"y":78},{"s":"TiN","x":50.65,"y":82},{"s":"TiN","x":50.72,"y":86},{"s":"TiN","x":50.78,"y":88},{"s":"TiN","x":50.84,"y":82},{"s":"TiN","x":50.9,"y":85},{"s":"TiN","x":50.98,"y":90},{"s":"TiN","x":51.04,"y":95},{"s":"TiN","x":51.09,"y":98},{"s":"TiN","x":51.15,"y":92},{"s":"TiN","x":51.21,"y":85},{"s":"TiN","x":51.3,"y":68},{"s":"TiN","x":51.4,"y":55},{"s":"TiN","x":51.46,"y":62},{"s":"TiN","x":51.52,"y":61},{"s":"TiN","x":51.65,"y":55},{"s":"TiN","x":51.78,"y":50},{"s":"TiN","x":51.9,"y":56},{"s":"TiN","x":52.02,"y":55},{"s":"TiN","x":52.15,"y":48},{"s":"TiN","x":52.28,"y":50},{"s":"TiN","x":52.4,"y":56},{"s":"TiN","x":52.52,"y":55},{"s":"TiN","x":52.65,"y":48},{"s":"TiN","x":52.78,"y":50},{"s":"TiN","x":52.9,"y":56},{"s":"TiN","x":53.02,"y":61},{"s":"TiN","x":53.12,"y":70},{"s":"TiN","x":53.21,"y":77},{"s":"TiN","x":53.28,"y":82},{"s":"TiN","x":53.34,"y":88},{"s":"TiN","x":53.4,"y":95},{"s":"TiN","x":53.46,"y":101},{"s":"TiN","x":53.52,"y":98},{"s":"TiN","x":53.59,"y":96},{"s":"TiN","x":53.65,"y":88},{"s":"TiN","x":53.71,"y":82},{"s":"TiN","x":53.78,"y":76},{"s":"TiN","x":53.84,"y":71},{"s":"TiN","x":53.92,"y":66},{"s":"TiN","x":54.02,"y":61},{"s":"TiN","x":54.08,"y":52},{"s":"TiN","x":54.15,"y":39},{"s":"TiN","x":54.22,"y":46},{"s":"TiN","x":54.34,"y":50},{"s":"TiN","x":54.42,"y":44},{"s":"TiN","x":54.52,"y":39},{"s":"TiN","x":54.62,"y":45},{"s":"TiN","x":54.71,"y":44},{"s":"TiN","x":54.8,"y":50},{"s":"TiN","x":54.9,"y":44},{"s":"TiN","x":55.0,"y":42}
],
"gete": [
{"hkl":"003","x":25.01},{"hkl":"101","x":26.09},{"hkl":"012","x":29.89},{"hkl":"104","x":42.06},{"hkl":"110","x":43.42},{"hkl":"015","x":49.52},{"hkl":"113","x":50.73},{"hkl":"006","x":51.21},{"hkl":"021","x":51.33},{"hkl":"202","x":53.57}
]
},
"layer": [
{
"data": {"name": "xrd"},
"transform": [{"filter": "datum.s === 'SiO₂'"}],
"mark": {"type": "line", "clip": true, "strokeWidth": 3, "strokeJoin": "round"},
"encoding": {
"x": {"field": "x", "type": "quantitative", "scale": {"domain": [23.1, 55], "nice": false, "zero": false},
"axis": {"orient": "bottom", "zindex": 1, "values": [25, 30, 35, 40, 45, 50, 55], "grid": true, "gridColor": "#9a9a9a", "gridWidth": 1.2, "ticks": true, "tickSize": -20, "tickWidth": 3, "tickColor": "black", "tickCap": "butt", "domain": true, "domainColor": "black", "domainWidth": 4, "labels": true, "labelFont": "Lato", "labelFontSize": 25, "labelFontWeight": "bold", "labelColor": "black", "labelPadding": 49, "labelFlush": false, "labelOverlap": false, "title": "2 [°]", "titleFont": "Lato", "titleFontSize": 33, "titleFontWeight": "bold", "titleColor": "black", "titlePadding": 10, "titleX": 417}},
"y": {"field": "y", "type": "quantitative", "scale": {"domain": [0, 800], "nice": false, "zero": true},
"axis": {"orient": "left", "zindex": 1, "values": [0, 100, 200, 300, 400, 500, 600, 700, 800], "grid": true, "gridColor": "#9a9a9a", "gridWidth": 1.2, "ticks": true, "tickSize": -20, "tickWidth": 3.5, "tickColor": "black", "tickCap": "butt", "domain": true, "domainColor": "black", "domainWidth": 4, "labels": true, "labelFont": "Lato", "labelFontSize": 25, "labelFontWeight": "bold", "labelColor": "black", "labelPadding": 43, "labelFlush": false, "labelOverlap": false, "title": "I(2\u00a0\u00a0\u00a0) [# of counts]", "titleFont": "Lato", "titleFontSize": 35, "titleFontWeight": "bold", "titleColor": "black", "titlePadding": 42, "titleY": 252}},
"color": {"field": "s", "type": "nominal",
"scale": {"domain": ["SiO₂", "Ta", "TiN", "Rhomboedric GeTe"], "range": ["#11ee11", "#ff8000", "#000000", "#ff00ff"]},
"legend": {"orient": "none", "legendX": -158, "legendY": 504, "title": null, "labelFont": "Lato", "labelFontSize": 19, "labelFontWeight": "bold", "labelColor": "black", "labelOffset": 20, "symbolType": "stroke", "symbolSize": 400, "symbolStrokeWidth": 3, "rowPadding": 9, "padding": 0,
"encode": {"symbols": {"update": {
"shape": {"signal": "datum.label === 'Rhomboedric GeTe' ? 'M-0.35,0A0.35,0.35 0 1,0 0.35,0A0.35,0.35 0 1,0 -0.35,0Z' : 'M-2.6,0H2.6'"},
"fill": {"signal": "datum.label === 'Rhomboedric GeTe' ? '#ff00ff' : 'transparent'"}}}}}}
}
},
{
"data": {"name": "xrd"},
"transform": [{"filter": "datum.s === 'Ta'"}],
"mark": {"type": "line", "clip": true, "strokeWidth": 3, "strokeJoin": "round"},
"encoding": {
"x": {"field": "x", "type": "quantitative", "axis": null},
"y": {"field": "y", "type": "quantitative", "axis": null},
"color": {"field": "s", "type": "nominal"}
}
},
{
"data": {"name": "xrd"},
"transform": [{"filter": "datum.s === 'TiN'"}],
"mark": {"type": "line", "clip": true, "strokeWidth": 3.3, "strokeJoin": "round"},
"encoding": {
"x": {"field": "x", "type": "quantitative", "axis": null},
"y": {"field": "y", "type": "quantitative", "axis": null},
"color": {"field": "s", "type": "nominal"}
}
},
{
"data": {"name": "gete"},
"mark": {"type": "rule", "color": "#ff00ff", "strokeWidth": 1.5},
"encoding": {
"x": {"field": "x", "type": "quantitative", "axis": null}
}
},
{
"data": {"name": "gete"},
"transform": [{"filter": "datum.hkl !== '021' && datum.hkl !== '202'"}],
"mark": {"type": "text", "angle": 270, "align": "right", "baseline": "middle", "dx": -8, "dy": -8, "font": "Lato", "fontSize": 16, "fontWeight": "bold", "color": "black"},
"encoding": {
"x": {"field": "x", "type": "quantitative",
"axis": {"orient": "bottom", "zindex": 1, "values": [27.5, 32.5, 37.5, 42.5, 47.5, 52.5], "grid": false, "ticks": true, "tickSize": -11, "tickWidth": 3, "tickColor": "black", "tickCap": "butt", "domain": false, "labels": false, "title": null}},
"y": {"datum": 800, "type": "quantitative",
"axis": {"orient": "left", "zindex": 1, "values": [50, 150, 250, 350, 450, 550, 650, 750], "grid": true, "gridColor": "#c4c4c4", "gridWidth": 1, "gridDash": [3, 3], "ticks": true, "tickSize": -11, "tickWidth": 3.5, "tickColor": "black", "tickCap": "butt", "domain": false, "labels": false, "title": null}},
"text": {"field": "hkl", "type": "nominal"}
}
},
{
"data": {"name": "gete"},
"transform": [{"filter": "datum.hkl === '021' || datum.hkl === '202'"}],
"mark": {"type": "text", "angle": 270, "align": "right", "baseline": "middle", "dx": -8, "dy": 8, "font": "Lato", "fontSize": 16, "fontWeight": "bold", "color": "black"},
"encoding": {
"x": {"field": "x", "type": "quantitative", "axis": null},
"y": {"datum": 800, "type": "quantitative", "axis": null},
"text": {"field": "hkl", "type": "nominal"}
}
}
],
"resolve": {"axis": {"x": "independent", "y": "independent"}}
}
